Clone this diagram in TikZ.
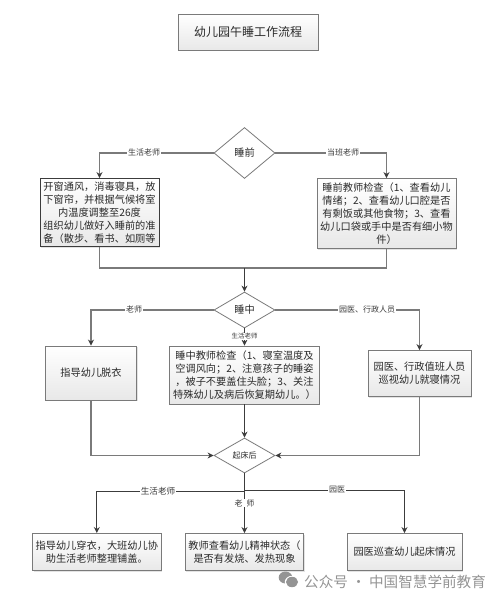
\documentclass[tikz,border=0pt]{standalone}
\usepackage{fontspec}
\setmainfont{Noto Sans CJK SC}
\usetikzlibrary{shapes.geometric,arrows.meta,shadows,calc}
\definecolor{linec}{HTML}{7A7A7A}
\definecolor{darkc}{HTML}{3C3C3C}
\definecolor{txt}{HTML}{2A2A2A}
\tikzset{
  box/.style={rectangle,draw=#1,line width=0.9pt,top color=white,bottom color=black!9,
    drop shadow={opacity=.22,shadow xshift=1pt,shadow yshift=-1pt},
    align=center,inner sep=0pt,text=txt,font=\fontsize{10.2}{13}\selectfont},
  box/.default=linec,
  dec/.style={diamond,draw=linec,line width=0.8pt,fill=white,aspect=1.2,inner sep=0pt,
    minimum width=61pt,minimum height=#1,text=txt},
  flow/.style={draw=linec,line width=1.1pt},
  darkflow/.style={draw=darkc,line width=0.9pt},
  tip/.style={-{Stealth[length=6pt,width=6pt,color=darkc]}},
  lab/.style={fill=white,inner sep=0.6pt,text=darkc,font=\fontsize{8}{9}\selectfont},
}
\begin{document}
\begin{tikzpicture}[x=1pt,y=-1pt]
\useasboundingbox (0,0) rectangle (502,602);
% title
\node[box,minimum width=140pt,minimum height=36pt,font=\fontsize{12}{15}\selectfont] (title) at (248,32) {幼儿园午睡工作流程};
% diamonds
\node[dec=51pt,font=\fontsize{10.2}{12}\selectfont] (d1) at (244.5,153) {睡前};
\node[dec=36pt,font=\fontsize{10.2}{12}\selectfont] (d2) at (244.5,310) {睡中};
\node[dec=35pt,font=\fontsize{8}{10}\selectfont] (d3) at (244.5,455.5) {起床后};
% first row
\node[box=darkc,minimum width=119pt,minimum height=68pt] (a1) at (99.5,212.5) {开窗通风，消毒寝具，放\\下窗帘，并根据气候将室\\内温度调整至26度\\组织幼儿做好入睡前的准\\备（散步、看书、如厕等};
\node[box,minimum width=139pt,minimum height=70pt] (a2) at (386.5,213.5) {睡前教师检查（1、查看幼儿\\情绪；2、查看幼儿口腔是否\\有剩饭或其他食物；3、查看\\幼儿口袋或手中是否有细小物\\件）};
\coordinate (m) at (244.5,268);
% second row
\node[box,minimum width=91pt,minimum height=54pt] (b1) at (91,373) {指导幼儿脱衣};
\node[box,minimum width=149.5pt,minimum height=58pt] (b2) at (244.5,375) {睡中教师检查（1、寝室温度及\\空调风向；2、注意孩子的睡姿\\，被子不要盖住头脸；3、关注\\特殊幼儿及病后恢复期幼儿。）};
\node[box,minimum width=103pt,minimum height=46pt] (b3) at (419.5,373.5) {园医、行政值班人员\\巡视幼儿就寝情况};
% third row
\node[box,minimum width=128.5pt,minimum height=37pt] (c1) at (96.8,552) {指导幼儿穿衣，大班幼儿协\\助生活老师整理铺盖。};
\node[box,minimum width=118.5pt,minimum height=37pt] (c2) at (244.5,552) {教师查看幼儿精神状态（\\是否有发烧、发热现象};
\node[box,minimum width=115pt,minimum height=37pt] (c3) at (404.5,552) {园医巡查幼儿起床情况};
% connectors: d1
\draw[flow,tip] (d1.west) -| (a1.north);
\draw[flow,tip] (d1.east) -| (a2.north);
\draw[flow] (a1.south) |- (m);
\draw[flow] (a2.south) |- (m);
\draw[darkflow,tip] (m) -- (d2.north);
% connectors: d2
\draw[flow,tip] (d2.west) -| (b1.north);
\draw[flow,tip] (d2.east) -| (b3.north);
\draw[darkflow,tip] (d2.south) -- (b2.north);
\draw[flow,tip] (b1.south) |- (d3.west);
\draw[flow,tip] (b3.south) |- (d3.east);
\draw[darkflow,tip] (b2.south) -- (d3.north);
% connectors: d3
\coordinate (s1) at (244.5,491);
\coordinate (s2) at (244.5,490);
\draw[darkflow,tip] (d3.south) -- (c2.north);
\draw[darkflow,tip] (s1) -| (c1.north);
\draw[darkflow,tip] (s2) -| (c3.north);
% connector labels
\node[lab] (l1) at (144,152.5) {生活老师};
\node[lab] (l2) at (343,152.5) {当班老师};
\node[lab] (l3) at (134,309.5) {老师};
\node[lab] (l4) at (367,309.5) {园医、行政人员};
\node[lab,font=\fontsize{6.5}{7}\selectfont] (l5) at (244.5,336.5) {生活老师};
\node[lab,font=\fontsize{8.6}{10}\selectfont] (l6) at (158,491) {生活老师};
\node[lab] (l7) at (244.5,503) {老\ \ 师};
\node[lab] (l8) at (337,489.5) {园医};
% watermark
\fill[black!42] (285.5,577.5) ellipse (6.8pt and 6pt);
\fill[white] (292,582) ellipse (7.2pt and 6.2pt);
\fill[black!42] (292,582) ellipse (6pt and 5.2pt);
\node[anchor=west,inner sep=0pt,text=black!42,font=\fontsize{14.6}{16}\selectfont] (wm) at (304,581.5) {公众号 · 中国智慧学前教育};
\end{tikzpicture}
\end{document}
